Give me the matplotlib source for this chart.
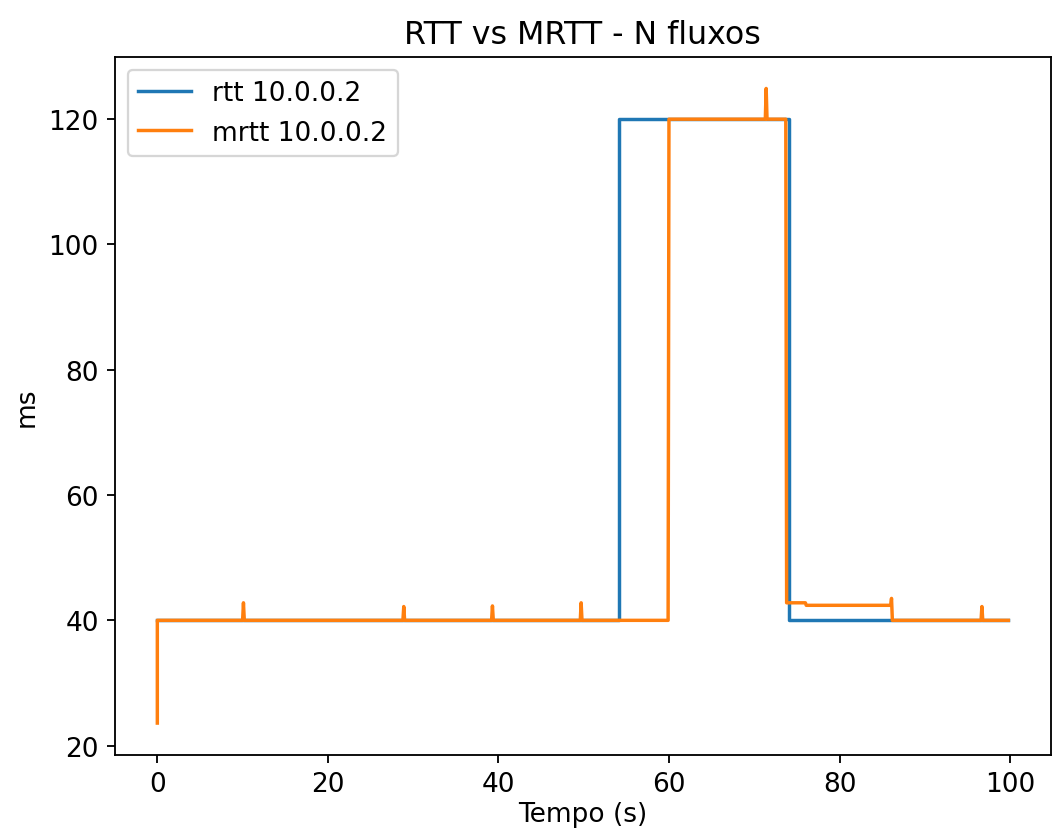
import matplotlib
matplotlib.use('Agg')
import matplotlib.pyplot as plt

plt.rcParams['font.size'] = 11.5

# rtt 10.0.0.2 (breakpoints)
rtt_t = [0, 54.1, 54.1, 74.1, 74.1, 99.8]
rtt_ms = [40, 40, 120, 120, 40, 40]

# mrtt 10.0.0.2
mrtt_t = [0, 0, 10.0, 10.1, 10.2, 28.8, 28.9, 29.0, 39.2, 39.3, 39.4,
          49.6, 49.7, 49.8, 59.9, 60.0, 71.3, 71.4, 71.5, 73.7, 73.8,
          76.0, 76.1, 86.0, 86.1, 86.2, 96.6, 96.7, 96.8, 99.8]
mrtt_ms = [23.6, 40, 40, 42.8, 40, 40, 42.2, 40, 40, 42.3, 40,
           40, 42.8, 40, 40, 120, 120, 124.9, 120, 120, 42.8,
           42.8, 42.4, 42.4, 43.5, 40, 40, 42.2, 40, 40]

fig = plt.figure(figsize=(1053/165, 837/165), dpi=165)
ax = fig.add_axes([0.109, 0.097, 0.889, 0.834])

ax.plot(rtt_t, rtt_ms, label='rtt 10.0.0.2')
ax.plot(mrtt_t, mrtt_ms, label='mrtt 10.0.0.2')

ax.set_title('RTT vs MRTT - N fluxos')
ax.set_xlabel('Tempo (s)', labelpad=2)
ax.set_ylabel('ms')
ax.set_yticks([20, 40, 60, 80, 100, 120])
ax.legend(loc='upper left')

fig.savefig('out.png', dpi=165)
